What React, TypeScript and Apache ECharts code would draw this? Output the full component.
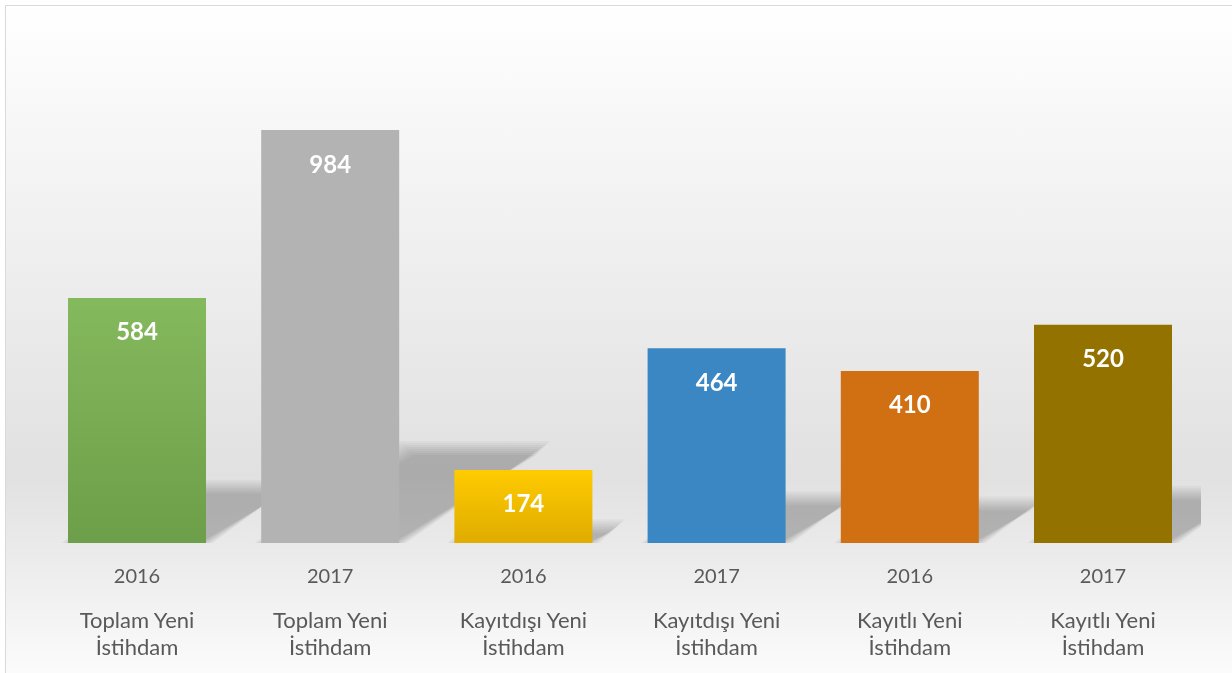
import React, { useEffect, useRef } from "react";
import * as echarts from "echarts";

const years = ["2016", "2017", "2016", "2017", "2016", "2017"];
const categories = [
  "Toplam Yeni İstihdam",
  "Toplam Yeni İstihdam",
  "Kayıtdışı Yeni İstihdam",
  "Kayıtdışı Yeni İstihdam",
  "Kayıtlı Yeni İstihdam",
  "Kayıtlı Yeni İstihdam",
];
const values = [584, 984, 174, 464, 410, 520];

const barColors: [string, string][] = [
  ["#85b95d", "#6d9e49"],
  ["#b3b3b3", "#b3b3b3"],
  ["#ffcb00", "#dfac00"],
  ["#3a87c4", "#3a87c4"],
  ["#d07012", "#d07012"],
  ["#937200", "#937200"],
];

const FONT = "Lato, 'Open Sans', sans-serif";
const BAR_W = 138;

export default function App() {
  const ref = useRef<HTMLDivElement>(null);

  useEffect(() => {
    if (!ref.current) return;
    const chart = echarts.init(ref.current, null, { renderer: "svg" });
    const labels = years.map((y, i) => `${y}\n${categories[i]}`);

    const option: any = {
      animation: false,
      graphic: [
        {
          type: "rect",
          z: -10,
          silent: true,
          shape: { x: 5.5, y: 5.5, width: 1240, height: 680 },
          style: {
            fill: new echarts.graphic.LinearGradient(0, 0, 0, 1, [
              { offset: 0, color: "#ffffff" },
              { offset: 0.15, color: "#f8f8f8" },
              { offset: 0.69, color: "#e1e1e1" },
              { offset: 0.82, color: "#ececec" },
              { offset: 1, color: "#fdfdfd" },
            ]),
            stroke: "#d9d9d9",
            lineWidth: 1,
          },
        },
      ],
      grid: { left: 40.4, right: 32.4, top: 123.3, bottom: 130, containLabel: false },
      xAxis: {
        type: "category",
        data: labels,
        axisLine: { show: false },
        axisTick: { show: false },
        axisLabel: {
          interval: 0,
          margin: 0,
          formatter: (_v: string, i: number) => {
            const c = categories[i];
            const k = c.lastIndexOf(" ");
            return `{y|${years[i]}}\n{c|${c.slice(0, k)}}\n{c|${c.slice(k + 1)}}`;
          },
          rich: {
            y: { fontFamily: FONT, fontSize: 20, color: "#595959", lineHeight: 63 },
            c: { fontFamily: FONT, fontSize: 22, color: "#595959", lineHeight: 27 },
          },
        },
      },
      yAxis: {
        type: "value",
        min: 0,
        max: 1000,
        show: false,
        splitLine: { show: false },
      },
      series: [
        {
          type: "custom",
          z: 1,
          clip: true,
          silent: true,
          data: values.map((v, i) => [i, v]),
          renderItem: (params: any, api: any) => {
            const idx = api.value(0);
            const val = api.value(1);
            const base = api.coord([idx, 0]);
            const top = api.coord([idx, val]);
            const h = base[1] - top[1];
            const xl = base[0] - BAR_W / 2;
            const xr = base[0] + BAR_W / 2;
            const yb = base[1];
            const d = 0.35 * h;
            const k = 0.23 * h;
            const children: any[] = [];
            const layers = 8;
            for (let j = 0; j < layers; j++) {
              const e = -7 + j * 2;
              children.push({
                type: "polygon",
                shape: {
                  points: [
                    [xl - e, yb],
                    [xr + e, yb],
                    [xr + d + e, yb - k - e],
                    [xl + d - e, yb - k - e],
                  ],
                },
                style: { fill: "rgba(0,0,0,0.03)" },
              });
            }
            return { type: "group", children };
          },
        },
        {
          type: "bar",
          z: 2,
          barWidth: BAR_W,
          data: values.map((v, i) => ({
            value: v,
            itemStyle: {
              color: new echarts.graphic.LinearGradient(0, 0, 0, 1, [
                { offset: 0, color: barColors[i][0] },
                { offset: 1, color: barColors[i][1] },
              ]),
            },
          })),
          label: {
            show: true,
            position: "insideTop",
            distance: 21,
            color: "#ffffff",
            fontFamily: FONT,
            fontWeight: "bold",
            fontSize: 24,
          },
        },
      ],
    };
    chart.setOption(option);
    return () => chart.dispose();
  }, []);

  return (
    <div
      ref={ref}
      style={{ position: "fixed", left: 0, top: 0, width: 1232, height: 673 }}
    />
  );
}
